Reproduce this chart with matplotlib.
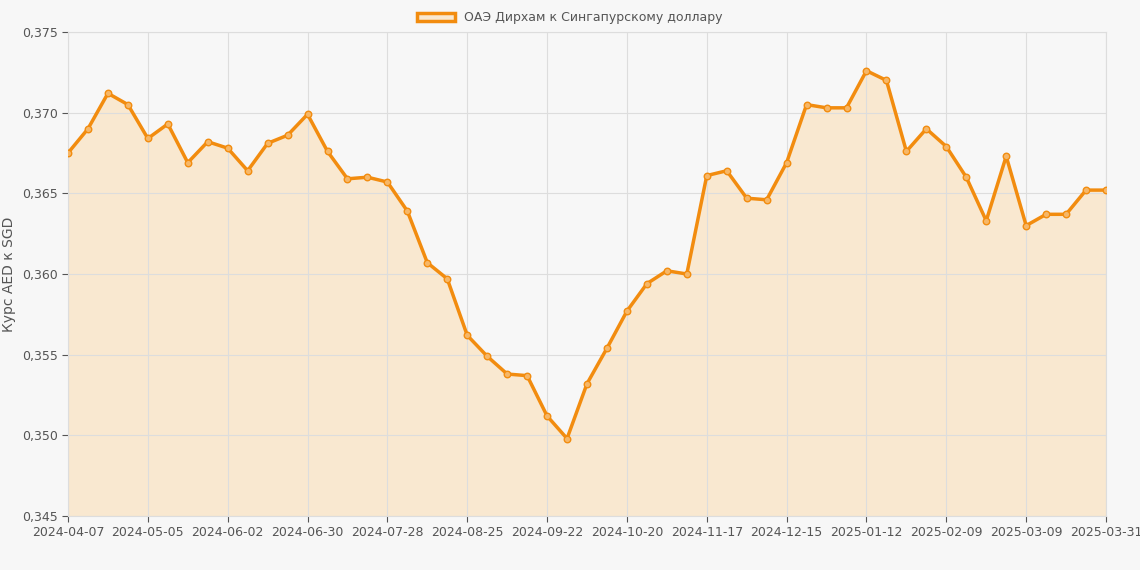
import numpy as np
import matplotlib.pyplot as plt

rates = [0.3675, 0.3690, 0.3712, 0.3705, 0.3684, 0.3693, 0.3669, 0.3682, 0.3678, 0.3664,
         0.3681, 0.3686, 0.3699, 0.3676, 0.3659, 0.3660, 0.3657, 0.3639, 0.3607, 0.3597,
         0.3562, 0.3549, 0.3538, 0.3537, 0.3512, 0.3498, 0.3532, 0.3554, 0.3577, 0.3594,
         0.3602, 0.3600, 0.3661, 0.3664, 0.3647, 0.3646, 0.3669, 0.3705, 0.3703, 0.3703,
         0.3726, 0.3720, 0.3676, 0.3690, 0.3679, 0.3660, 0.3633, 0.3673, 0.3630, 0.3637,
         0.3637, 0.3652, 0.3652]
tick_labels = ["2024-04-07", "2024-05-05", "2024-06-02", "2024-06-30", "2024-07-28",
               "2024-08-25", "2024-09-22", "2024-10-20", "2024-11-17", "2024-12-15",
               "2025-01-12", "2025-02-09", "2025-03-09", "2025-03-31"]
tick_pos = list(range(0, 52, 4)) + [52]

line_c = "#f28c0f"
fig = plt.figure(figsize=(11.4, 5.7), dpi=100)
fig.patch.set_facecolor("#f7f7f7")
ax = fig.add_axes([68 / 1140, 54 / 570, 1038 / 1140, 484 / 570])
ax.set_facecolor("#f7f7f7")
x = np.arange(len(rates))
ax.fill_between(x, rates, 0.345, color="#f9e8d0", zorder=1)
ax.plot(x, rates, color=line_c, lw=2.5, zorder=3, label="ОАЭ Дирхам к Сингапурскому доллару")
ax.scatter(x, rates, s=22, facecolor="#f6b768", edgecolor=line_c, lw=1, zorder=4)
ax.set_xlim(0, 52)
ax.set_ylim(0.345, 0.375)
ax.set_yticks(np.arange(0.345, 0.3751, 0.005))
ax.set_yticklabels([f"{v:.3f}".replace(".", ",") for v in np.arange(0.345, 0.3751, 0.005)])
ax.set_xticks(tick_pos)
ax.set_xticklabels(tick_labels)
ax.grid(True, color="#dddddd", lw=0.8, zorder=0)
ax.tick_params(labelsize=9, colors="#555555", length=4)
for s in ax.spines.values():
    s.set_color("#dddddd")
ax.set_ylabel("Курс AED к SGD", fontsize=10, color="#555555")
leg = fig.legend(handles=[plt.Rectangle((0, 0), 1, 1, facecolor="#f9e8d0", edgecolor=line_c, lw=2.5)],
                 labels=["ОАЭ Дирхам к Сингапурскому доллару"], loc="upper center",
                 bbox_to_anchor=(0.5, 1.0), frameon=False, fontsize=9, handlelength=3)
for t in leg.get_texts():
    t.set_color("#555555")
fig.savefig("out.png", dpi=100, facecolor=fig.get_facecolor())
